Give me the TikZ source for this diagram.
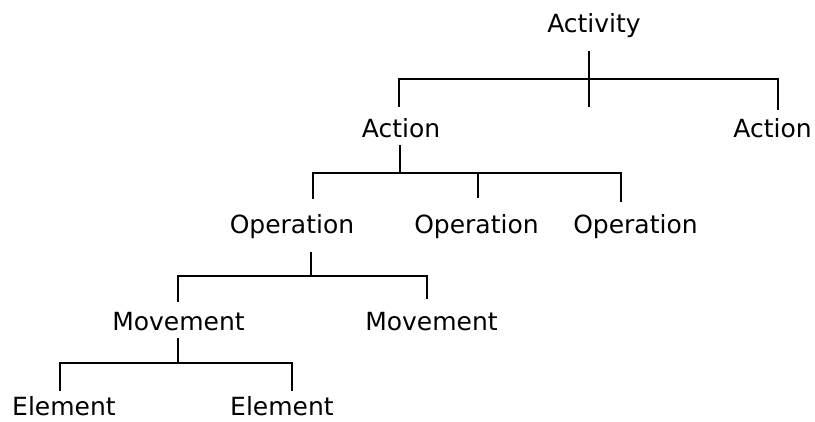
\documentclass[tikz,border=0pt]{standalone}
\usepackage{fontspec}
\setmainfont{DejaVu Sans}
\begin{document}
\begin{tikzpicture}[x=1pt,y=-1pt,
  lbl/.style={anchor=base,inner sep=0pt,font=\fontsize{25}{30}\selectfont},
  tree/.style={line width=2pt,line join=miter}]
\useasboundingbox (0,0) rectangle (815,421);

% labels, level by level
\node[lbl] (act)  at (594,32.5) {Activity};
\node[lbl] (acL)  at (401,137)  {Action};
\node[lbl] (acR)  at (772.5,137) {Action};
\node[lbl] (op1)  at (292,233)  {Operation};
\node[lbl] (op2)  at (476.5,233) {Operation};
\node[lbl] (op3)  at (635.5,233) {Operation};
\node[lbl] (mv1)  at (178.5,330) {Movement};
\node[lbl] (mv2)  at (431.5,330) {Movement};
\node[lbl] (el1)  at (64,415)   {Element};
\node[lbl] (el2)  at (282,415)  {Element};

% stems under each parent and the bars they meet
\coordinate (actS) at (589,51);   \coordinate (actB) at (589,107);
\coordinate (barA) at (0,79);
\coordinate (acLS) at (400,145);  \coordinate (barB) at (0,173);
\coordinate (op1S) at (311,252);  \coordinate (barC) at (0,276);
\coordinate (mv1S) at (178,338);  \coordinate (barD) at (0,363);

% drop ends above each child
\coordinate (acLD) at (399,107);
\coordinate (acRD) at (778,110);
\coordinate (op1D) at (313,199);
\coordinate (op2D) at (478,198);
\coordinate (op3D) at (621,202);
\coordinate (mv1D) at (178,302);
\coordinate (mv2D) at (427,299);
\coordinate (el1D) at (60,391);
\coordinate (el2D) at (292,391);

% Activity -> Actions
\draw[tree] (actS) -- (actB);
\draw[tree] (acLD) -- (acLD |- barA) -- (acRD |- barA) -- (acRD);

% Action -> Operations
\draw[tree] (acLS) -- (acLS |- barB);
\draw[tree] (op1D) -- (op1D |- barB) -- (op3D |- barB) -- (op3D);
\draw[tree] (op2D) -- (op2D |- barB);

% Operation -> Movements
\draw[tree] (op1S) -- (op1S |- barC);
\draw[tree] (mv1D) -- (mv1D |- barC) -- (mv2D |- barC) -- (mv2D);

% Movement -> Elements
\draw[tree] (mv1S) -- (mv1S |- barD);
\draw[tree] (el1D) -- (el1D |- barD) -- (el2D |- barD) -- (el2D);
\end{tikzpicture}
\end{document}
